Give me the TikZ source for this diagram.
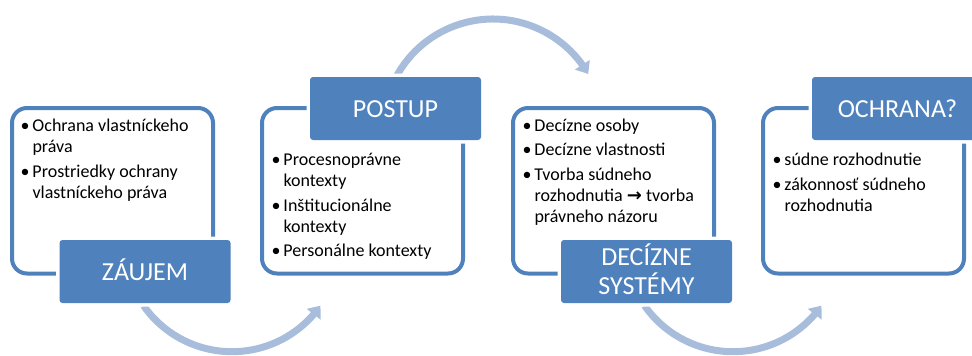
\documentclass[tikz,border=0pt]{standalone}
\usepackage{fontspec}
\setmainfont{Carlito}
\newfontfamily\symfont{DejaVu Sans}
\usetikzlibrary{arrows.meta,bending}
\definecolor{accent}{RGB}{79,129,189}
\definecolor{flowc}{RGB}{168,189,220}
\newcommand\itm[1]{\par\hangindent=12pt\hangafter=1\noindent\makebox[12pt][l]{\textbullet}#1}
\newcommand\blist[1]{\begin{minipage}[t]{195pt}\raggedright\setlength\parskip{3.5pt}#1\end{minipage}}
\tikzset{
  outl/.style={draw=accent, line width=4pt, rounded corners=15pt, minimum width=201pt, minimum height=165.5pt, inner sep=0pt},
  lbl/.style={fill=accent, rounded corners=3pt, minimum width=171pt, minimum height=63pt, inner sep=0pt, preaction={draw=white, line width=7pt}},
  lbltxt/.style={anchor=base, text=white, inner sep=0pt, font=\fontsize{26}{28}\selectfont},
  txt/.style={anchor=base west, inner sep=0pt, font=\fontsize{18}{21}\selectfont},
  flow/.style={draw=flowc, line width=7pt, -{Triangle[width=17pt,length=11pt]}}
}
\begin{document}
\begin{tikzpicture}[x=1pt,y=-1pt]
\useasboundingbox (0,0) rectangle (972,356);
\clip (0,0) rectangle (972,356);
% outline boxes
\node[outl] (B1) at (112.5,190.75) {};
\node[outl] (B2) at (362.5,190.75) {};
\node[outl] (B3) at (613.5,190.75) {};
\node[outl] (B4) at (863.5,190.75) {};
% flow arcs
\coordinate (c1) at (232,243.7);
\coordinate (c2) at (493,129);
\coordinate (c3) at (733,243.7);
\draw[flow] (c1) ++(145:108) arc[start angle=145, end angle=35, radius=108];
\draw[flow] (c2) ++(208:110) arc[start angle=208, end angle=330, radius=110];
\draw[flow] (c3) ++(145:108) arc[start angle=145, end angle=35, radius=108];
% label boxes
\node[lbl] (L1) at (145,271.5) {};
\node[lbl] (L2) at (395.5,108.5) {};
\node[lbl] (L3) at (646.5,271.5) {};
\node[lbl] (L4) at (897.5,108.5) {};
\node[lbltxt] (Z1) at ([yshift=-8.5pt]L1.center) {ZÁUJEM};
\node[lbltxt] (Z2) at ([yshift=-8.5pt]L2.center) {POSTUP};
\node[lbltxt] (Z3a) at ([yshift=6.5pt]L3.center) {DECÍZNE};
\node[lbltxt] (Z3b) at ([yshift=-22.5pt]L3.center) {SYSTÉMY};
\node[lbltxt] (Z4) at ([yshift=-9pt]L4.center) {OCHRANA?};
% bullet texts
\node[txt] (T1) at (20.3,131.5) {\blist{\itm{Ochrana vlastníckeho\newline práva}\itm{Prostriedky ochrany\newline vlastníckeho práva}}};
\node[txt] (T2) at (271.3,165.5) {\blist{\itm{Procesnoprávne\newline kontexty}\itm{Inštitucionálne\newline kontexty}\itm{Personálne kontexty}}};
\node[txt] (T3) at (522.3,131) {\blist{\itm{Decízne osoby}\itm{Decízne vlastnosti}\itm{Tvorba súdneho\newline rozhodnutia {\symfont\bfseries →} tvorba\newline právneho názoru}}};
\node[txt] (T4) at (772.3,165.5) {\blist{\itm{súdne rozhodnutie}\itm{zákonnosť súdneho\newline rozhodnutia}}};
\end{tikzpicture}
\end{document}
